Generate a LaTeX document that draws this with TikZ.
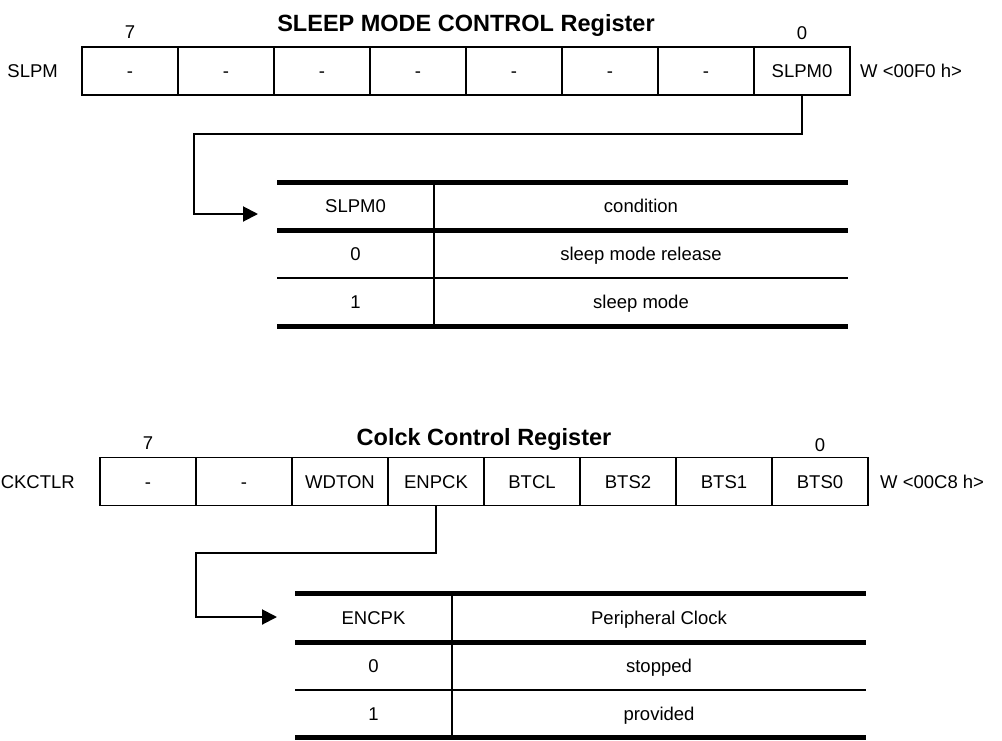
\documentclass[tikz,border=0pt]{standalone}
\usepackage{fontspec}
\setmainfont{Liberation Sans}
\usetikzlibrary{arrows.meta}
\begin{document}
\begin{tikzpicture}[x=1pt,y=-1pt,
  txt/.style={font=\fontsize{18.5}{22}\selectfont, inner sep=0pt, text height=13.2pt, text depth=0pt},
  addr/.style={txt, anchor=west},
  title/.style={font=\fontsize{23.5}{28}\selectfont\bfseries, inner sep=0pt, text height=16.8pt, text depth=0pt},
  regcell/.style={draw, line width=1.8pt, minimum width=96pt, minimum height=48pt, inner sep=0pt, text height=13.2pt, text depth=0pt, font=\fontsize{18.5}{22}\selectfont},
  tcell/.style={txt},
  thick rule/.style={line width=5pt},
  thin rule/.style={line width=2pt},
  conn/.style={line width=2pt, -{Triangle[length=15pt,width=15pt]}},
]
\useasboundingbox[fill=white] (0,0) rectangle (1002,740);

% ---------- SLEEP MODE CONTROL Register ----------
\node[title] (t1title) at (466,23) {SLEEP MODE CONTROL Register};
\node[txt] (t1seven) at (130,32) {7};
\node[txt] (t1zero) at (802,33) {0};
\node[txt, anchor=east] (slpm) at (58,71) {SLPM};
\node[addr] (t1addr) at (860,71) {W <00F0 h>};
\foreach \i/\t in {0/-,1/-,2/-,3/-,4/-,5/-,6/-,7/SLPM0} {
  \node[regcell] (a\i) at ({130+96*\i},71) {\t};
}

% table 1
\node[minimum width=571pt, minimum height=144pt, inner sep=0pt] (tab1) at (562.5,254) {};
\draw[thick rule] (277,182) -- (848,182);
\draw[thick rule] (277,230) -- (848,230);
\draw[thin rule] (277,278) -- (848,278);
\draw[thick rule] (277,326) -- (848,326);
\draw[thin rule] (434,182) -- (434,326);
\node[tcell] (h1a) at (355.5,206) {SLPM0};
\node[tcell] (h1b) at (641,206) {condition};
\node[tcell] (r1a) at (355.5,254) {0};
\node[tcell] (r1b) at (641,254) {sleep mode release};
\node[tcell] (s1a) at (355.5,302) {1};
\node[tcell] (s1b) at (641,302) {sleep mode};

\coordinate (k1) at (802,134);
\coordinate (k2) at (194,134);
\coordinate (k3) at (194,214);
\coordinate (tip1) at (258,214);
\draw[conn] (a7.south) -- (k1) -- (k2) -- (k3) -- (tip1);

% ---------- Colck Control Register ----------
\node[title] (t2title) at (484,437) {Colck Control Register};
\node[txt] (t2seven) at (148,443) {7};
\node[txt] (t2zero) at (820,445) {0};
\node[txt, anchor=east] (ckctlr) at (75,482) {CKCTLR};
\node[addr] (t2addr) at (880,482) {W <00C8 h>};
\foreach \i/\t in {0/-,1/-,2/WDTON,3/ENPCK,4/BTCL,5/BTS2,6/BTS1,7/BTS0} {
  \node[regcell] (b\i) at ({148+96*\i},481.5) {\t};
}

% table 2
\node[minimum width=571pt, minimum height=144pt, inner sep=0pt] (tab2) at (580.5,665) {};
\draw[thick rule] (295,593) -- (866,593);
\draw[thick rule] (295,642) -- (866,642);
\draw[thin rule] (295,690) -- (866,690);
\draw[thick rule] (295,737) -- (866,737);
\draw[thin rule] (452,593) -- (452,737);
\node[tcell] (h2a) at (373.5,617.5) {ENCPK};
\node[tcell] (h2b) at (659,617.5) {Peripheral Clock};
\node[tcell] (r2a) at (373.5,666) {0};
\node[tcell] (r2b) at (659,666) {stopped};
\node[tcell] (s2a) at (373.5,713.5) {1};
\node[tcell] (s2b) at (659,713.5) {provided};

\coordinate (m1) at (436,553);
\coordinate (m2) at (196,553);
\coordinate (m3) at (196,617);
\coordinate (tip2) at (277,617);
\draw[conn] (b3.south) -- (m1) -- (m2) -- (m3) -- (tip2);
\end{tikzpicture}
\end{document}
